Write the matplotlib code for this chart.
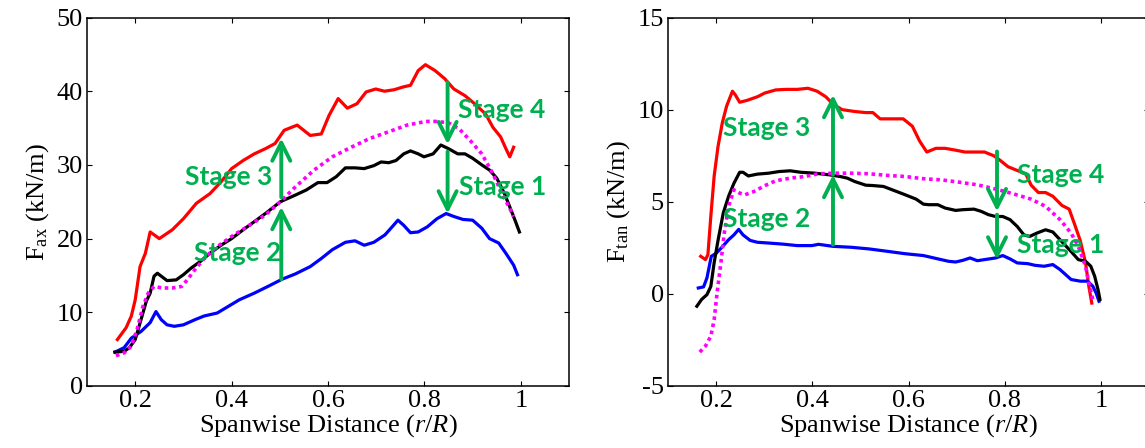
import matplotlib
matplotlib.use("Agg")
import matplotlib.pyplot as plt
import numpy as np

plt.rcParams['font.family'] = ['Liberation Serif', 'DejaVu Serif']
plt.rcParams['mathtext.fontset'] = 'custom'
plt.rcParams['mathtext.rm'] = 'Liberation Serif'
plt.rcParams['mathtext.it'] = 'Liberation Serif:italic'
plt.rcParams['axes.unicode_minus'] = False

# ---------------- Left panel: axial force ----------------
ax_red_x = [0.163, 0.181, 0.192, 0.200, 0.210, 0.221, 0.231, 0.250, 0.277, 0.300, 0.327, 0.355, 0.378, 0.400,
            0.424, 0.447, 0.470, 0.490, 0.509, 0.536, 0.563, 0.586, 0.602, 0.621, 0.640, 0.660, 0.679, 0.699,
            0.717, 0.737, 0.757, 0.771, 0.787, 0.802, 0.822, 0.842, 0.861, 0.884, 0.904, 0.927, 0.942, 0.958,
            0.969, 0.977, 0.985]
ax_red_y = [6.3, 7.9, 9.5, 11.7, 16.2, 18.0, 20.9, 20.0, 21.2, 22.7, 24.8, 26.1, 27.7, 29.5,
            30.6, 31.5, 32.2, 32.9, 34.7, 35.4, 34.0, 34.2, 36.7, 39.0, 37.7, 38.3, 39.9, 40.3,
            40.0, 40.2, 40.6, 40.8, 42.8, 43.6, 42.8, 41.7, 40.3, 39.4, 38.3, 36.9, 35.1, 33.8,
            32.2, 31.1, 32.4]

ax_blk_x = [0.158, 0.177, 0.188, 0.200, 0.212, 0.223, 0.231, 0.239, 0.246, 0.254, 0.266, 0.285, 0.300, 0.316,
            0.335, 0.355, 0.378, 0.400, 0.424, 0.447, 0.470, 0.501, 0.532, 0.555, 0.579, 0.598, 0.617, 0.636,
            0.656, 0.675, 0.695, 0.710, 0.726, 0.741, 0.757, 0.771, 0.787, 0.799, 0.818, 0.834, 0.850, 0.869,
            0.884, 0.900, 0.919, 0.935, 0.950, 0.966, 0.977, 0.989, 0.997]
ax_blk_y = [4.6, 4.7, 5.2, 6.3, 9.0, 11.5, 12.6, 14.9, 15.3, 14.9, 14.3, 14.4, 15.1, 16.0,
            16.9, 18.0, 19.1, 20.0, 21.2, 22.3, 23.4, 25.0, 25.9, 26.6, 27.6, 27.6, 28.4, 29.6,
            29.6, 29.5, 29.9, 30.4, 30.3, 30.6, 31.5, 31.9, 31.5, 31.1, 31.5, 32.7, 32.2, 31.5,
            31.5, 30.9, 30.0, 29.3, 28.2, 26.1, 24.3, 22.3, 20.9]

ax_mag_x = [0.160, 0.177, 0.192, 0.204, 0.216, 0.227, 0.239, 0.258, 0.277, 0.296, 0.308, 0.324, 0.347, 0.370,
            0.400, 0.432, 0.470, 0.501, 0.532, 0.571, 0.609, 0.648, 0.687, 0.726, 0.764, 0.803, 0.826, 0.850,
            0.872, 0.895, 0.919, 0.942, 0.961, 0.977, 0.985]
ax_mag_y = [4.1, 4.5, 5.4, 7.7, 10.8, 12.6, 13.5, 13.3, 13.3, 13.5, 14.4, 15.8, 17.6, 18.9,
            20.3, 21.6, 23.2, 25.0, 27.0, 29.3, 31.1, 32.4, 33.6, 34.5, 35.4, 35.9, 35.9, 35.7,
            34.9, 33.3, 31.5, 28.8, 26.1, 24.1, 23.0]

ax_blu_x = [0.158, 0.177, 0.192, 0.212, 0.231, 0.243, 0.254, 0.266, 0.281, 0.300, 0.324, 0.343, 0.370, 0.393,
            0.416, 0.447, 0.478, 0.505, 0.532, 0.563, 0.586, 0.609, 0.636, 0.656, 0.675, 0.695, 0.718, 0.733,
            0.745, 0.757, 0.771, 0.787, 0.806, 0.826, 0.845, 0.861, 0.880, 0.900, 0.919, 0.935, 0.954, 0.969,
            0.985, 0.993]
ax_blu_y = [4.6, 5.2, 6.5, 7.4, 8.6, 10.1, 9.0, 8.3, 8.1, 8.3, 9.0, 9.5, 9.9, 10.8,
            11.7, 12.6, 13.6, 14.5, 15.2, 16.2, 17.3, 18.5, 19.5, 19.7, 19.1, 19.5, 20.5, 21.6,
            22.5, 21.8, 20.8, 20.9, 21.6, 22.7, 23.4, 23.0, 22.6, 22.5, 21.4, 20.0, 19.4, 18.0,
            16.4, 15.1]

# ---------------- Right panel: tangential force ----------------
tan_red_x = [0.168, 0.178, 0.183, 0.189, 0.196, 0.204, 0.213, 0.222, 0.234, 0.240, 0.249, 0.264, 0.286, 0.301,
             0.324, 0.346, 0.369, 0.391, 0.410, 0.428, 0.443, 0.462, 0.488, 0.511, 0.526, 0.541, 0.571, 0.589,
             0.608, 0.623, 0.638, 0.657, 0.676, 0.698, 0.717, 0.736, 0.758, 0.777, 0.788, 0.807, 0.826, 0.844,
             0.855, 0.870, 0.885, 0.900, 0.919, 0.934, 0.945, 0.957, 0.968, 0.975, 0.981]
tan_red_y = [2.04, 1.86, 2.13, 4.2, 6.4, 8.0, 9.3, 10.2, 11.0, 10.8, 10.4, 10.5, 10.7, 10.9,
             11.07, 11.1, 11.1, 11.16, 11.0, 10.7, 10.3, 10.0, 9.9, 9.84, 9.84, 9.5, 9.5, 9.5,
             9.1, 8.3, 7.7, 7.9, 7.9, 7.8, 7.7, 7.7, 7.7, 7.5, 7.3, 6.9, 6.7, 6.5,
             5.9, 5.5, 5.5, 5.3, 4.8, 4.6, 3.8, 2.9, 1.7, 0.4, -0.5]

tan_blk_x = [0.160, 0.170, 0.181, 0.189, 0.196, 0.204, 0.215, 0.226, 0.237, 0.249, 0.256, 0.267, 0.286, 0.309,
             0.331, 0.354, 0.376, 0.406, 0.436, 0.458, 0.473, 0.488, 0.511, 0.526, 0.548, 0.571, 0.593, 0.616,
             0.631, 0.642, 0.661, 0.676, 0.698, 0.713, 0.736, 0.751, 0.766, 0.781, 0.796, 0.811, 0.826, 0.840,
             0.852, 0.867, 0.885, 0.900, 0.915, 0.938, 0.953, 0.968, 0.979, 0.987, 0.994, 0.998]
tan_blk_y = [-0.67, -0.3, -0.04, 0.4, 1.7, 2.9, 4.4, 5.3, 6.0, 6.6, 6.6, 6.4, 6.5, 6.55,
             6.64, 6.68, 6.6, 6.55, 6.46, 6.37, 6.28, 6.1, 5.9, 5.88, 5.83, 5.6, 5.38, 5.14,
             4.87, 4.84, 4.84, 4.66, 4.53, 4.57, 4.6, 4.48, 4.3, 4.2, 4.2, 4.03, 3.66, 3.2,
             3.12, 3.3, 3.48, 3.36, 2.94, 2.3, 1.86, 1.77, 1.5, 0.96, 0.23, -0.3]

tan_blu_x = [0.163, 0.174, 0.181, 0.190, 0.200, 0.211, 0.226, 0.237, 0.247, 0.256, 0.271, 0.286, 0.309, 0.339,
             0.369, 0.399, 0.413, 0.443, 0.481, 0.518, 0.556, 0.593, 0.631, 0.661, 0.683, 0.698, 0.713, 0.728,
             0.743, 0.758, 0.781, 0.796, 0.811, 0.826, 0.848, 0.863, 0.882, 0.900, 0.915, 0.938, 0.957, 0.972,
             0.983, 0.990, 0.996]
tan_blu_y = [0.32, 0.38, 0.87, 2.04, 2.2, 2.5, 2.94, 3.2, 3.5, 3.2, 2.9, 2.8, 2.76, 2.7,
             2.62, 2.62, 2.69, 2.58, 2.53, 2.44, 2.31, 2.18, 2.08, 1.9, 1.77, 1.73, 1.82, 1.95,
             1.8, 1.86, 1.95, 2.08, 1.9, 1.68, 1.64, 1.55, 1.5, 1.59, 1.32, 0.78, 0.69, 0.69,
             0.42, 0.05, -0.4]

tan_mag_x = [0.166, 0.178, 0.189, 0.196, 0.202, 0.210, 0.217, 0.226, 0.237, 0.249, 0.260, 0.279, 0.301, 0.324,
             0.354, 0.384, 0.413, 0.443, 0.481, 0.518, 0.556, 0.593, 0.631, 0.668, 0.706, 0.743, 0.781, 0.818,
             0.855, 0.885, 0.915, 0.938, 0.953, 0.968, 0.975, 0.983]
tan_mag_y = [-3.16, -2.83, -2.3, -1.4, 0.05, 1.68, 3.3, 4.75, 5.65, 5.47, 5.38, 5.56, 5.87, 6.14,
             6.28, 6.37, 6.52, 6.55, 6.55, 6.52, 6.43, 6.37, 6.25, 6.19, 6.06, 5.92, 5.69, 5.43,
             5.14, 4.75, 4.03, 3.3, 2.58, 1.5, 0.6, -0.3]

# Stage annotations: (label, text x, text y, arrow x, arrow start y, arrow end y)
ax_stage_labels = ['Stage 3', 'Stage 2', 'Stage 4', 'Stage 1']
ax_stage_text_x = [0.304, 0.321, 0.869, 0.871]
ax_stage_text_y = [28.4, 18.1, 37.5, 27.0]
ax_arrow_x = [0.503, 0.503, 0.848, 0.848]
ax_arrow_from = [25.6, 14.5, 41.2, 31.8]
ax_arrow_to = [33.6, 24.3, 32.8, 23.4]

tan_stage_labels = ['Stage 3', 'Stage 2', 'Stage 4', 'Stage 1']
tan_stage_text_x = [0.215, 0.215, 0.825, 0.825]
tan_stage_text_y = [9.03, 4.06, 6.43, 2.67]
tan_arrow_x = [0.443, 0.443, 0.784, 0.784]
tan_arrow_from = [6.46, 2.67, 7.73, 4.3]
tan_arrow_to = [10.8, 6.46, 4.48, 1.86]

x_ticks = [0.2, 0.4, 0.6, 0.8, 1.0]
x_ticklabels = ['0.2', '0.4', '0.6', '0.8', '1']
ax_yticks = [0, 10, 20, 30, 40, 50]
tan_yticks = [-5, 0, 5, 10, 15]

GREEN = '#00B050'
LW = 2.3

fig = plt.figure(figsize=(11.45, 4.48), dpi=100)
axL = fig.add_axes([0.0760, 0.1384, 0.4210, 0.8225])
axR = fig.add_axes([0.5834, 0.1384, 0.4201, 0.8225])


def style(ax, yticks, ylim):
    ax.set_xlim(0.1, 1.1)
    ax.set_ylim(*ylim)
    ax.set_xticks(x_ticks)
    ax.set_xticklabels(x_ticklabels)
    ax.set_yticks(yticks)
    ax.set_yticklabels([str(v) for v in yticks])
    ax.tick_params(direction='in', top=True, right=True, length=3.5, width=0.8,
                   labelsize=19, pad=3)
    for s in ax.spines.values():
        s.set_linewidth(1.1)
    ax.set_xlabel('Spanwise Distance ($r/R$)', fontsize=19, labelpad=0)


def draw(ax, rx, ry, kx, ky, mx, my, bx, by):
    ax.plot(rx, ry, color='#FF0000', lw=LW, zorder=3)
    ax.plot(bx, by, color='#0000FF', lw=LW, zorder=3)
    ax.plot(kx, ky, color='black', lw=LW, zorder=4)
    ax.plot(mx, my, color='#FF00FF', lw=LW + 0.3, ls=(0, (1.0, 1.0)), zorder=5)


def stages(ax, labels, tx, ty, axx, afrom, ato):
    for lab, x, y in zip(labels, tx, ty):
        ax.text(x, y, lab, color=GREEN, fontsize=19, fontweight='bold',
                family=['Lato', 'DejaVu Sans'], ha='left', va='center', zorder=7)
    for x, y0, y1 in zip(axx, afrom, ato):
        ax.annotate('', xy=(x, y1), xytext=(x, y0),
                    arrowprops=dict(arrowstyle='->,head_length=1.3,head_width=0.65',
                                    color=GREEN, lw=2.8, mutation_scale=10,
                                    shrinkA=0, shrinkB=0),
                    zorder=8)


draw(axL, ax_red_x, ax_red_y, ax_blk_x, ax_blk_y, ax_mag_x, ax_mag_y, ax_blu_x, ax_blu_y)
stages(axL, ax_stage_labels, ax_stage_text_x, ax_stage_text_y, ax_arrow_x, ax_arrow_from, ax_arrow_to)
style(axL, ax_yticks, (0, 50))
axL.set_ylabel('F$_{\\mathrm{ax}}$ (kN/m)', fontsize=19, labelpad=4)

draw(axR, tan_red_x, tan_red_y, tan_blk_x, tan_blk_y, tan_mag_x, tan_mag_y, tan_blu_x, tan_blu_y)
stages(axR, tan_stage_labels, tan_stage_text_x, tan_stage_text_y, tan_arrow_x, tan_arrow_from, tan_arrow_to)
style(axR, tan_yticks, (-5, 15))
axR.set_ylabel('F$_{\\mathrm{tan}}$ (kN/m)', fontsize=19, labelpad=4)

fig.savefig('out.png', dpi=100)
